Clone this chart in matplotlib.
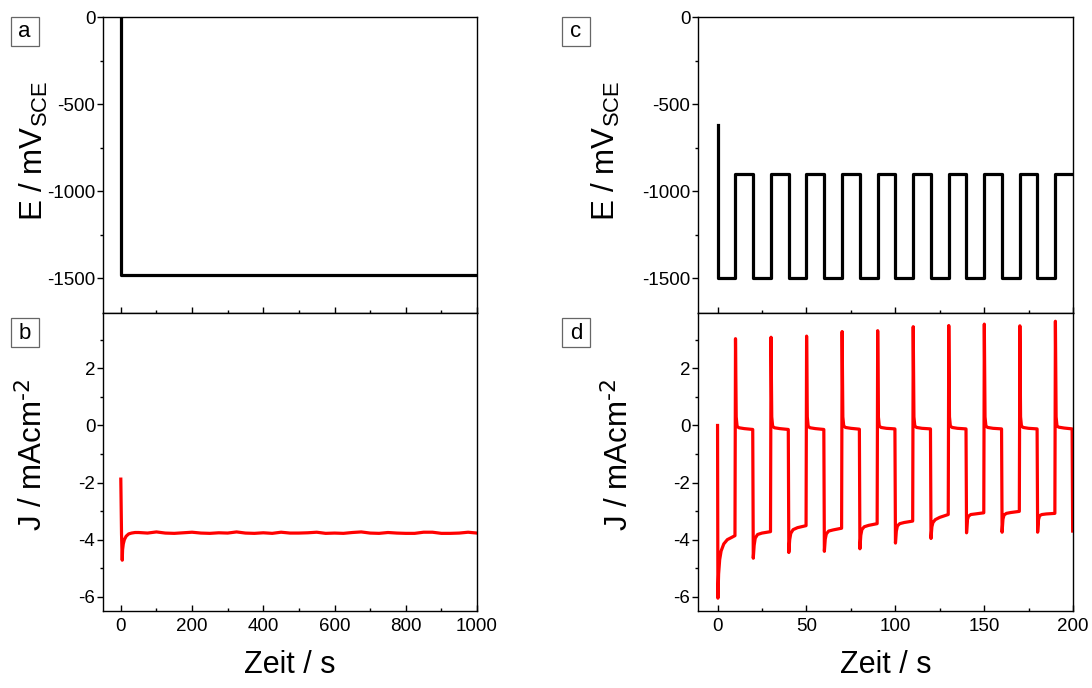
import matplotlib
matplotlib.use('Agg')
import matplotlib.pyplot as plt
from matplotlib.patches import Rectangle
from matplotlib.ticker import MultipleLocator

# a: potentiostatic, long run
t_a = [0, 0, 1000]
E_a = [0, -1480, -1480]

# b: current for a
t_b = [0, 2, 4, 5, 7, 10, 15, 22, 30, 40,
       50, 75, 100, 125, 150, 175, 200, 225, 250, 275, 300, 325, 350, 375, 400,
       425, 450, 475, 500, 525, 550, 575, 600, 625, 650, 675, 700, 725, 750,
       775, 800, 825, 850, 875, 900, 925, 950, 975, 1000]
J_b = [-1.88, -3.8, -4.72, -4.35, -4.15, -4.0, -3.88, -3.8, -3.77, -3.75,
       -3.75, -3.77, -3.73, -3.77, -3.78, -3.76, -3.74, -3.77, -3.78, -3.76, -3.77,
       -3.73, -3.77, -3.78, -3.76, -3.78, -3.74, -3.77, -3.77, -3.76, -3.74, -3.78,
       -3.77, -3.78, -3.75, -3.73, -3.77, -3.78, -3.75, -3.77, -3.78, -3.78, -3.74,
       -3.74, -3.78, -3.78, -3.77, -3.74, -3.77]

# c: pulsed potential (step values)
t_c = [0, 0, 10, 20, 30, 40, 50, 60, 70, 80, 90, 100, 110, 120, 130, 140, 150,
       160, 170, 180, 190, 200]
E_c = [-620, -1500, -900, -1500, -900, -1500, -900, -1500, -900, -1500, -900,
       -1500, -900, -1500, -900, -1500, -900, -1500, -900, -1500, -900, -900]

# d: current for c
t_d = [0, 0.2, 0.6, 1.2, 2, 3.5, 5.5, 8, 9.8,
       10.1, 10.5, 11, 12, 15, 19.8,
       20.1, 20.6, 21.2, 22.5, 25, 29.8,
       30.1, 30.5, 31, 32, 35, 39.8,
       40.1, 40.6, 41.2, 42.5, 45, 49.8,
       50.1, 50.5, 51, 52, 55, 59.8,
       60.1, 60.6, 61.2, 62.5, 65, 69.8,
       70.1, 70.5, 71, 72, 75, 79.8,
       80.1, 80.6, 81.2, 82.5, 85, 89.8,
       90.1, 90.5, 91, 92, 95, 99.8,
       100.1, 100.6, 101.2, 102.5, 105, 109.8,
       110.1, 110.5, 111, 112, 115, 119.8,
       120.1, 120.6, 121.2, 122.5, 125, 129.8,
       130.1, 130.5, 131, 132, 135, 139.8,
       140.1, 140.6, 141.2, 142.5, 145, 149.8,
       150.1, 150.5, 151, 152, 155, 159.8,
       160.1, 160.6, 161.2, 162.5, 165, 169.8,
       170.1, 170.5, 171, 172, 175, 179.8,
       180.1, 180.6, 181.2, 182.5, 185, 189.8,
       190.1, 190.5, 191, 192, 195, 199.5,
       199.8]
J_d = [0.0, -6.05, -5.2, -4.7, -4.4, -4.15, -4.0, -3.92, -3.86,
       3.04, 0.3, -0.03, -0.08, -0.11, -0.14,
       -4.65, -4.2, -3.95, -3.82, -3.77, -3.72,
       3.09, 0.3, -0.03, -0.08, -0.11, -0.14,
       -4.45, -4.0, -3.78, -3.65, -3.58, -3.51,
       3.13, 0.3, -0.03, -0.08, -0.11, -0.14,
       -4.41, -3.98, -3.8, -3.7, -3.66, -3.6,
       3.29, 0.3, -0.02, -0.07, -0.1, -0.13,
       -4.32, -3.85, -3.65, -3.55, -3.5, -3.44,
       3.32, 0.3, -0.02, -0.07, -0.1, -0.12,
       -4.12, -3.7, -3.52, -3.44, -3.4, -3.35,
       3.46, 0.3, -0.02, -0.07, -0.1, -0.12,
       -3.96, -3.55, -3.4, -3.3, -3.22, -3.12,
       3.5, 0.3, -0.02, -0.07, -0.1, -0.12,
       -3.76, -3.3, -3.18, -3.12, -3.1, -3.06,
       3.55, 0.3, -0.02, -0.07, -0.1, -0.12,
       -3.74, -3.28, -3.14, -3.08, -3.05, -3.01,
       3.49, 0.3, -0.02, -0.07, -0.1, -0.12,
       -3.74, -3.3, -3.16, -3.12, -3.1, -3.08,
       3.65, 0.3, -0.02, -0.06, -0.09, -0.12,
       -3.7]

matplotlib.rcParams.update({'font.family': ['Liberation Sans', 'DejaVu Sans']})
matplotlib.rcParams.update({'font.size': 13.5})
matplotlib.rcParams.update({'mathtext.default': 'regular'})
matplotlib.rcParams.update({'axes.unicode_minus': False})
matplotlib.rcParams.update({'axes.linewidth': 1.0})

W, H = 1092, 688
fig = plt.figure(figsize=(W / 100, H / 100), dpi=100)


def box(x0, y_top, w, h):
    return [x0 / W, 1 - (y_top + h) / H, w / W, h / H]


ax_a = fig.add_axes(box(103, 17, 374, 296))
ax_b = fig.add_axes(box(103, 313, 374, 298))
ax_c = fig.add_axes(box(698, 17, 375, 296))
ax_d = fig.add_axes(box(698, 313, 375, 298))


def style(ax, xlim, xmaj, ylim, ymaj, show_x):
    ax.set_xlim(xlim)
    ax.set_ylim(ylim)
    ax.xaxis.set_major_locator(MultipleLocator(xmaj))
    ax.xaxis.set_minor_locator(MultipleLocator(xmaj / 2))
    ax.yaxis.set_major_locator(MultipleLocator(ymaj))
    ax.yaxis.set_minor_locator(MultipleLocator(ymaj / 2))
    ax.tick_params(axis='x', which='both', direction='in', top=False,
                   labelbottom=show_x, pad=5)
    ax.tick_params(axis='y', which='both', direction='out', right=False, pad=1.5)
    ax.tick_params(which='major', length=4, width=1.0)
    ax.tick_params(which='minor', length=2.5, width=1.0)


style(ax_a, (-50, 1000), 200, (-1700, 0), 500, False)
style(ax_b, (-50, 1000), 200, (-6.5, 3.94), 2, True)
style(ax_c, (-11, 200), 50, (-1700, 0), 500, False)
style(ax_d, (-11, 200), 50, (-6.5, 3.94), 2, True)

ax_a.plot(t_a, E_a, color='black', lw=2.3)
ax_b.plot(t_b, J_b, color='red', lw=2.3)
ax_c.plot(t_c, E_c, color='black', lw=2.3, drawstyle='steps-post')
ax_d.plot(t_d, J_d, color='red', lw=2.3)

for ax in (ax_a, ax_c):
    ax.set_ylabel(r'E / mV$_{SCE}$', fontsize=22.5)
for ax in (ax_b, ax_d):
    ax.set_ylabel(r'J / mAcm$^{\text{-2}}$', fontsize=22.5)
    ax.set_xlabel('Zeit / s', fontsize=22)
    ax.xaxis.set_label_coords(0.5, -0.13)

ax_a.yaxis.set_label_coords(-0.142, 0.547)
ax_b.yaxis.set_label_coords(-0.142, 0.523)
ax_c.yaxis.set_label_coords(-0.203, 0.547)
ax_d.yaxis.set_label_coords(-0.168, 0.523)

# panel letters in small frames
for lab, x, y in [('a', 24.5, 31.5), ('b', 24.5, 333), ('c', 576, 31.5), ('d', 576, 333)]:
    fig.patches.append(Rectangle(((x - 14) / W, 1 - (y + 14.5) / H), 28 / W, 29 / H,
                                 transform=fig.transFigure, fc='white', ec='0.4', lw=0.9))
    fig.text(x / W, 1 - y / H, lab, ha='center', va='center', fontsize=16)

plt.savefig('out.png', dpi=100)
